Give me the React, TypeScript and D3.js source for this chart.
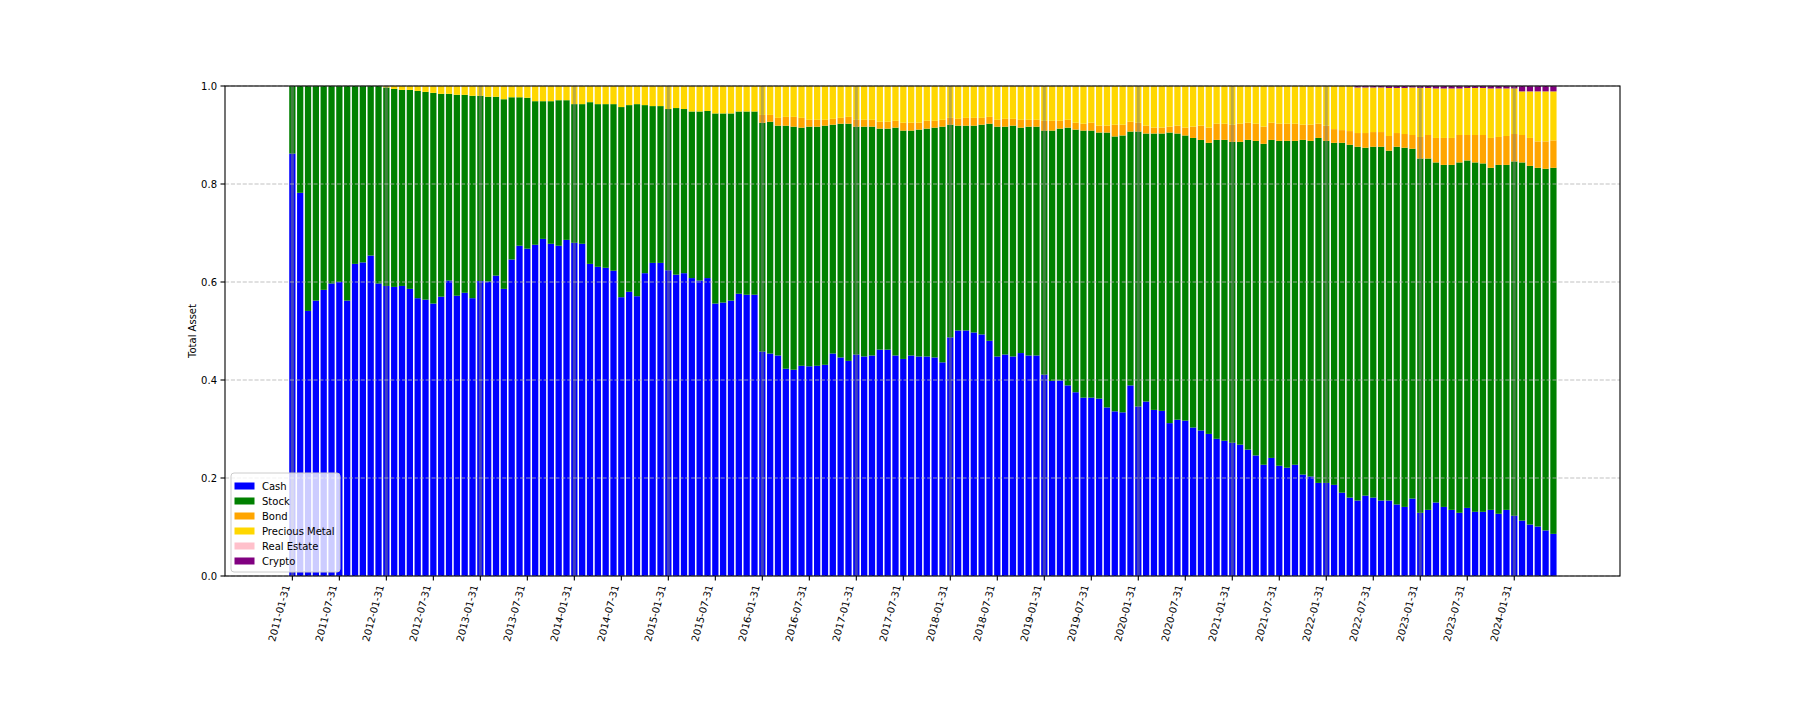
import React from 'react';
import * as d3 from 'd3';

// ---- data (monthly, 2011-01 .. 2024-06) ----
const cash = [
  0.862, 0.782, 0.541, 0.562, 0.584, 0.597, 0.600, 0.562, 0.637, 0.640, 0.654, 0.597,
  0.592, 0.590, 0.592, 0.586, 0.567, 0.564, 0.556, 0.570, 0.603, 0.572, 0.578, 0.567,
  0.602, 0.601, 0.613, 0.586, 0.646, 0.674, 0.668, 0.676, 0.688, 0.678, 0.674, 0.686,
  0.680, 0.678, 0.637, 0.631, 0.629, 0.623, 0.569, 0.580, 0.571, 0.618, 0.639, 0.639,
  0.624, 0.615, 0.618, 0.608, 0.603, 0.608, 0.556, 0.558, 0.562, 0.576, 0.574, 0.574,
  0.458, 0.454, 0.450, 0.423, 0.421, 0.429, 0.428, 0.429, 0.431, 0.454, 0.446, 0.439,
  0.452, 0.448, 0.450, 0.462, 0.462, 0.450, 0.443, 0.450, 0.448, 0.448, 0.446, 0.436,
  0.487, 0.501, 0.501, 0.497, 0.493, 0.480, 0.448, 0.452, 0.448, 0.455, 0.450, 0.450,
  0.411, 0.398, 0.399, 0.389, 0.375, 0.364, 0.364, 0.362, 0.344, 0.336, 0.334, 0.389,
  0.346, 0.356, 0.339, 0.337, 0.312, 0.319, 0.317, 0.303, 0.297, 0.290, 0.280, 0.276,
  0.272, 0.268, 0.258, 0.246, 0.227, 0.241, 0.225, 0.221, 0.227, 0.207, 0.203, 0.190,
  0.190, 0.186, 0.170, 0.160, 0.154, 0.164, 0.160, 0.154, 0.154, 0.146, 0.141, 0.158,
  0.129, 0.135, 0.150, 0.141, 0.135, 0.129, 0.139, 0.131, 0.131, 0.135, 0.127, 0.135,
  0.123, 0.113, 0.105, 0.101, 0.093, 0.086,
];
const stock = [
  0.138, 0.218, 0.459, 0.438, 0.416, 0.403, 0.400, 0.438, 0.363, 0.360, 0.346, 0.403,
  0.405, 0.404, 0.400, 0.406, 0.423, 0.424, 0.430, 0.414, 0.381, 0.410, 0.404, 0.413,
  0.378, 0.377, 0.365, 0.387, 0.331, 0.303, 0.308, 0.293, 0.281, 0.291, 0.297, 0.285,
  0.283, 0.285, 0.330, 0.332, 0.334, 0.340, 0.388, 0.381, 0.392, 0.343, 0.320, 0.320,
  0.329, 0.340, 0.335, 0.340, 0.345, 0.341, 0.388, 0.386, 0.382, 0.372, 0.374, 0.374,
  0.467, 0.473, 0.469, 0.496, 0.496, 0.486, 0.489, 0.488, 0.488, 0.467, 0.477, 0.484,
  0.465, 0.469, 0.467, 0.451, 0.451, 0.465, 0.466, 0.459, 0.463, 0.465, 0.469, 0.481,
  0.434, 0.418, 0.418, 0.422, 0.428, 0.443, 0.469, 0.465, 0.471, 0.460, 0.467, 0.467,
  0.498, 0.511, 0.514, 0.526, 0.536, 0.545, 0.545, 0.543, 0.561, 0.561, 0.565, 0.518,
  0.561, 0.547, 0.564, 0.566, 0.593, 0.584, 0.582, 0.591, 0.593, 0.594, 0.610, 0.614,
  0.614, 0.618, 0.632, 0.642, 0.655, 0.649, 0.663, 0.667, 0.661, 0.683, 0.685, 0.704,
  0.698, 0.698, 0.714, 0.720, 0.722, 0.710, 0.716, 0.722, 0.714, 0.730, 0.733, 0.714,
  0.723, 0.717, 0.694, 0.698, 0.704, 0.715, 0.709, 0.713, 0.711, 0.698, 0.712, 0.704,
  0.723, 0.731, 0.732, 0.732, 0.738, 0.747,
];
const bond = [
  0, 0, 0, 0, 0, 0, 0, 0, 0, 0, 0, 0,
  0, 0, 0, 0, 0, 0, 0, 0, 0, 0, 0, 0,
  0, 0, 0, 0, 0, 0, 0, 0, 0, 0, 0, 0,
  0, 0, 0, 0, 0, 0, 0, 0, 0, 0, 0, 0,
  0, 0, 0, 0, 0, 0, 0, 0, 0, 0, 0, 0,
  0.016, 0.014, 0.016, 0.018, 0.020, 0.020, 0.014, 0.014, 0.012, 0.012, 0.012, 0.014,
  0.014, 0.014, 0.014, 0.014, 0.014, 0.014, 0.016, 0.016, 0.014, 0.016, 0.014, 0.014,
  0.014, 0.014, 0.016, 0.016, 0.014, 0.014, 0.014, 0.016, 0.014, 0.016, 0.014, 0.014,
  0.020, 0.020, 0.016, 0.016, 0.014, 0.014, 0.016, 0.014, 0.014, 0.024, 0.022, 0.020,
  0.018, 0.016, 0.012, 0.012, 0.012, 0.016, 0.016, 0.023, 0.029, 0.031, 0.033, 0.033,
  0.035, 0.037, 0.035, 0.035, 0.035, 0.035, 0.035, 0.035, 0.035, 0.031, 0.033, 0.029,
  0.031, 0.028, 0.026, 0.028, 0.028, 0.030, 0.030, 0.030, 0.030, 0.028, 0.028, 0.028,
  0.044, 0.048, 0.050, 0.055, 0.055, 0.056, 0.052, 0.056, 0.058, 0.061, 0.057, 0.059,
  0.056, 0.056, 0.057, 0.054, 0.056, 0.056,
];
const metal = [
  0, 0, 0, 0, 0, 0, 0, 0, 0, 0, 0, 0,
  0.003, 0.006, 0.008, 0.008, 0.010, 0.012, 0.014, 0.016, 0.016, 0.018, 0.018, 0.020,
  0.020, 0.022, 0.022, 0.027, 0.023, 0.023, 0.024, 0.031, 0.031, 0.031, 0.029, 0.029,
  0.037, 0.037, 0.033, 0.037, 0.037, 0.037, 0.043, 0.039, 0.037, 0.039, 0.041, 0.041,
  0.047, 0.045, 0.047, 0.052, 0.052, 0.051, 0.056, 0.056, 0.056, 0.052, 0.052, 0.052,
  0.059, 0.059, 0.065, 0.063, 0.063, 0.065, 0.069, 0.069, 0.069, 0.067, 0.065, 0.063,
  0.069, 0.069, 0.069, 0.073, 0.073, 0.071, 0.075, 0.075, 0.075, 0.071, 0.071, 0.069,
  0.065, 0.067, 0.065, 0.065, 0.065, 0.063, 0.069, 0.067, 0.067, 0.069, 0.069, 0.069,
  0.071, 0.071, 0.071, 0.069, 0.075, 0.077, 0.075, 0.081, 0.081, 0.079, 0.079, 0.073,
  0.075, 0.081, 0.085, 0.085, 0.083, 0.081, 0.085, 0.083, 0.081, 0.085, 0.077, 0.077,
  0.079, 0.077, 0.075, 0.077, 0.083, 0.075, 0.077, 0.077, 0.077, 0.079, 0.079, 0.077,
  0.081, 0.088, 0.090, 0.092, 0.093, 0.093, 0.091, 0.091, 0.098, 0.092, 0.094, 0.097,
  0.100, 0.096, 0.101, 0.101, 0.101, 0.095, 0.096, 0.096, 0.096, 0.101, 0.099, 0.097,
  0.093, 0.089, 0.095, 0.102, 0.102, 0.100,
];
const realEstate = [
  0, 0, 0, 0, 0, 0, 0, 0, 0, 0, 0, 0,
  0, 0, 0, 0, 0, 0, 0, 0, 0, 0, 0, 0,
  0, 0, 0, 0, 0, 0, 0, 0, 0, 0, 0, 0,
  0, 0, 0, 0, 0, 0, 0, 0, 0, 0, 0, 0,
  0, 0, 0, 0, 0, 0, 0, 0, 0, 0, 0, 0,
  0, 0, 0, 0, 0, 0, 0, 0, 0, 0, 0, 0,
  0, 0, 0, 0, 0, 0, 0, 0, 0, 0, 0, 0,
  0, 0, 0, 0, 0, 0, 0, 0, 0, 0, 0, 0,
  0, 0, 0, 0, 0, 0, 0, 0, 0, 0, 0, 0,
  0, 0, 0, 0, 0, 0, 0, 0, 0, 0, 0, 0,
  0, 0, 0, 0, 0, 0, 0, 0, 0, 0, 0, 0,
  0, 0, 0, 0, 0, 0, 0, 0, 0, 0, 0, 0,
  0, 0, 0, 0, 0, 0, 0, 0, 0, 0, 0, 0,
  0, 0, 0, 0, 0, 0,
];
const crypto = [
  0, 0, 0, 0, 0, 0, 0, 0, 0, 0, 0, 0,
  0, 0, 0, 0, 0, 0, 0, 0, 0, 0, 0, 0,
  0, 0, 0, 0, 0, 0, 0, 0, 0, 0, 0, 0,
  0, 0, 0, 0, 0, 0, 0, 0, 0, 0, 0, 0,
  0, 0, 0, 0, 0, 0, 0, 0, 0, 0, 0, 0,
  0, 0, 0, 0, 0, 0, 0, 0, 0, 0, 0, 0,
  0, 0, 0, 0, 0, 0, 0, 0, 0, 0, 0, 0,
  0, 0, 0, 0, 0, 0, 0, 0, 0, 0, 0, 0,
  0, 0, 0, 0, 0, 0, 0, 0, 0, 0, 0, 0,
  0, 0, 0, 0, 0, 0, 0, 0, 0, 0, 0, 0,
  0, 0, 0, 0, 0, 0, 0, 0, 0, 0, 0, 0,
  0, 0, 0, 0, 0.003, 0.003, 0.003, 0.003, 0.004, 0.004, 0.004, 0.003,
  0.004, 0.004, 0.005, 0.005, 0.005, 0.005, 0.004, 0.004, 0.004, 0.005, 0.005, 0.005,
  0.005, 0.011, 0.011, 0.011, 0.011, 0.011,
];

const seriesNames = ['Cash', 'Stock', 'Bond', 'Precious Metal', 'Real Estate', 'Crypto'];
const seriesColors = ['#0000ff', '#008000', '#ffa500', '#ffd700', '#ffc0cb', '#800080'];
const seriesData = [cash, stock, bond, metal, realEstate, crypto];

const xTickLabels = [
  '2011-01-31', '2011-07-31', '2012-01-31', '2012-07-31', '2013-01-31', '2013-07-31',
  '2014-01-31', '2014-07-31', '2015-01-31', '2015-07-31', '2016-01-31', '2016-07-31',
  '2017-01-31', '2017-07-31', '2018-01-31', '2018-07-31', '2019-01-31', '2019-07-31',
  '2020-01-31', '2020-07-31', '2021-01-31', '2021-07-31', '2022-01-31', '2022-07-31',
  '2023-01-31', '2023-07-31', '2024-01-31',
];
const yTicks = [0, 0.2, 0.4, 0.6, 0.8, 1.0];

const FONT = '"DejaVu Sans", sans-serif';

export default function App() {
  const left = 225, right = 1620, top = 86, bottom = 576;
  const n = cash.length;
  const x = d3.scaleLinear().domain([-8.6, 169.5]).range([left, right]);
  const y = d3.scaleLinear().domain([0, 1]).range([bottom, top]);
  const bw = x(0.8) - x(0);

  const table = d3.range(n).map((i) => {
    const row: any = { i };
    seriesNames.forEach((name, k) => (row[name] = seriesData[k][i]));
    return row;
  });
  const stacked = d3.stack().keys(seriesNames)(table as any);

  const januaries = d3.range(0, n, 12);
  const tickIdx = xTickLabels.map((_, k) => k * 6);

  return (
    <svg width={1800} height={720} style={{ display: 'block', position: 'absolute', left: 0, top: 0, background: '#fff' }}>
      <rect x={0} y={0} width={1800} height={720} fill="#fff" />
      {/* bars */}
      {stacked.map((layer, k) => (
        <g key={seriesNames[k]} fill={seriesColors[k]}>
          {layer.map((d, i) => {
            const h = y(d[0]) - y(d[1]);
            if (h <= 0) return null;
            return <rect key={i} x={x(i) - bw / 2} y={y(d[1])} width={bw} height={h} />;
          })}
        </g>
      ))}
      {/* year lines */}
      {januaries.map((i) => (
        <line key={'yl' + i} x1={x(i)} x2={x(i)} y1={top} y2={bottom} stroke="#808080" strokeOpacity={0.5} strokeWidth={3} />
      ))}
      {/* grid */}
      {yTicks.map((t) => (
        <line key={'g' + t} x1={left} x2={right} y1={y(t)} y2={y(t)} stroke="#b0b0b0" strokeOpacity={0.8} strokeWidth={1.1} strokeDasharray="4.1 1.8" />
      ))}
      {/* spines */}
      <rect x={left} y={top} width={right - left} height={bottom - top} fill="none" stroke="#000" strokeWidth={1.1} />
      {/* y ticks */}
      {yTicks.map((t) => (
        <g key={'yt' + t}>
          <line x1={left - 4.5} x2={left} y1={y(t)} y2={y(t)} stroke="#000" strokeWidth={1.1} />
          <text x={left - 8} y={y(t)} dy="0.35em" textAnchor="end" fontSize={10} fontFamily={FONT} fill="#000">
            {t.toFixed(1)}
          </text>
        </g>
      ))}
      <text transform={`translate(${192},${(top + bottom) / 2}) rotate(-90)`} textAnchor="middle" dy="0.35em" fontSize={10} fontFamily={FONT} fill="#000">
        Total Asset
      </text>
      {/* x ticks */}
      {tickIdx.map((i, k) => (
        <g key={'xt' + i}>
          <line x1={x(i)} x2={x(i)} y1={bottom} y2={bottom + 4.5} stroke="#000" strokeWidth={1.1} />
          <text transform={`translate(${x(i) - 2.3},${bottom + 10}) rotate(-75)`} textAnchor="end" fontSize={10} fontFamily={FONT} fill="#000">
            {xTickLabels[k]}
          </text>
        </g>
      ))}
      {/* legend */}
      <g>
        <rect x={231} y={473} width={109} height={99} rx={3} fill="#fff" fillOpacity={0.8} stroke="#cccccc" strokeWidth={1} />
        {seriesNames.map((name, k) => (
          <g key={'lg' + name} transform={`translate(0,${486 + k * 15})`}>
            <rect x={234.5} y={-3.5} width={20} height={7} fill={seriesColors[k]} />
            <text x={262} y={0} dy="0.35em" fontSize={10} fontFamily={FONT} fill="#000">
              {name}
            </text>
          </g>
        ))}
      </g>
    </svg>
  );
}
